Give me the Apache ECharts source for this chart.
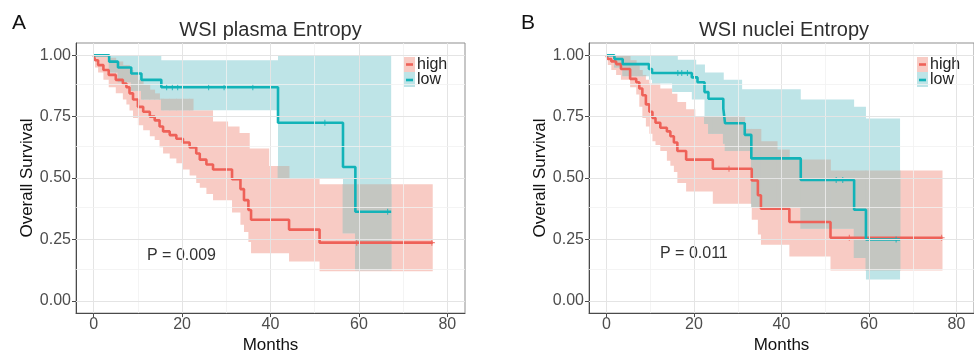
<!DOCTYPE html>
<html>
<head>
<meta charset="utf-8">
<script src="https://cdn.jsdelivr.net/npm/echarts@6/dist/echarts.min.js"></script>
<style>
  html, body { margin: 0; padding: 0; background: #fff; }
  #chart { width: 974px; height: 359px; }
</style>
</head>
<body>
<div id="chart"></div>
<script>
// Kaplan-Meier curves: [month, survival] where survival holds until the next month
const aHighLine = [[0,1],[0.3,0.98],[1.0,0.96],[2.2,0.94],[3.4,0.92],[5.0,0.90],[6.6,0.885],[7.4,0.87],[8.1,0.845],[8.9,0.82],[10.0,0.79],[11.2,0.77],[12.7,0.75],[13.8,0.735],[14.9,0.71],[15.7,0.69],[17.2,0.675],[18.7,0.66],[20.2,0.645],[21.7,0.625],[23.2,0.60],[24.0,0.575],[25.5,0.555],[27.0,0.535],[31.3,0.495],[33.2,0.455],[34.0,0.41],[35.0,0.37],[35.6,0.33],[44.2,0.29],[51.1,0.237],[76.7,0.237]];
const aHighUpper = [[0,1],[3.4,0.99],[5.0,0.975],[6.6,0.96],[8.1,0.94],[8.9,0.92],[10.0,0.90],[11.2,0.88],[12.7,0.86],[13.8,0.845],[14.9,0.823],[22.5,0.776],[27.0,0.73],[30.4,0.71],[33.0,0.683],[35.3,0.62],[39.7,0.549],[44.2,0.50],[51.1,0.475],[76.7,0.475]];
const aHighLower = [[0,1],[0.3,0.95],[1.0,0.93],[2.2,0.90],[3.4,0.87],[5.0,0.845],[6.6,0.82],[7.4,0.80],[8.1,0.775],[8.9,0.745],[10.0,0.715],[11.2,0.695],[12.7,0.67],[13.8,0.655],[14.9,0.625],[15.7,0.60],[17.2,0.58],[18.7,0.56],[20.2,0.535],[21.7,0.51],[23.2,0.48],[24.0,0.46],[25.5,0.435],[27.0,0.41],[31.3,0.36],[33.2,0.31],[34.0,0.28],[35.0,0.24],[35.6,0.194],[44.2,0.16],[51.1,0.12],[76.7,0.12]];
const aHighCensor = [[59.5,0.237],[76.5,0.237]];
const aLowLine = [[0,1],[3.5,0.974],[5.5,0.95],[8.5,0.926],[10.8,0.90],[15.3,0.87],[41.7,0.725],[56.4,0.545],[59.2,0.363],[67.3,0.363]];
const aLowUpper = [[0,1],[15.3,0.98],[41.7,1],[67.3,1]];
const aLowLower = [[0,1],[3.5,0.93],[5.5,0.89],[8.5,0.855],[10.8,0.82],[15.3,0.776],[41.7,0.50],[56.4,0.275],[59.2,0.125],[67.3,0.125]];
const aLowCensor = [[16.5,0.87],[17.8,0.87],[19.0,0.87],[26.0,0.87],[29.5,0.87],[36.0,0.87],[52.3,0.725],[66.5,0.363]];

const bHighLine = [[0,1],[0.3,0.985],[1.1,0.975],[2.2,0.964],[3.3,0.944],[5.4,0.904],[6.8,0.89],[7.5,0.865],[8.2,0.837],[9.0,0.80],[9.8,0.77],[10.5,0.745],[11.2,0.725],[12.3,0.705],[13.8,0.69],[14.6,0.67],[15.4,0.645],[16.2,0.61],[18.2,0.575],[24.3,0.538],[33.2,0.49],[34.6,0.43],[35.3,0.375],[41.8,0.321],[51.2,0.257],[76.8,0.257]];
const bHighUpper = [[0,1],[5.4,0.98],[6.8,0.96],[7.5,0.94],[8.2,0.92],[9.0,0.90],[9.8,0.885],[12.3,0.865],[15.0,0.843],[16.2,0.81],[18.2,0.78],[20.3,0.75],[31.6,0.70],[35.3,0.65],[39.0,0.616],[41.8,0.576],[51.2,0.531],[76.8,0.531]];
const bHighLower = [[0,1],[0.3,0.96],[1.1,0.94],[2.2,0.92],[3.3,0.90],[5.4,0.87],[6.8,0.84],[7.5,0.79],[8.2,0.745],[9.0,0.71],[9.8,0.68],[10.5,0.65],[11.2,0.635],[12.3,0.61],[13.8,0.57],[14.6,0.55],[15.4,0.525],[16.2,0.48],[18.2,0.445],[24.3,0.395],[33.2,0.33],[34.6,0.27],[35.3,0.228],[41.8,0.18],[51.2,0.124],[76.8,0.124]];
const bHighCensor = [[28.0,0.538],[55.5,0.257],[76.6,0.257]];
const bLowLine = [[0,1],[1.8,0.985],[3.7,0.964],[9.7,0.944],[10.4,0.928],[19.5,0.91],[20.8,0.89],[22.4,0.85],[23.3,0.823],[26.7,0.783],[27.1,0.723],[31.6,0.676],[33.1,0.58],[44.4,0.492],[56.6,0.371],[59.3,0.25],[67.1,0.25]];
const bLowUpper = [[0,1],[16.3,0.982],[20.5,0.962],[22.5,0.93],[26.8,0.90],[31.0,0.862],[44.4,0.82],[56.6,0.79],[59.3,0.743],[67.1,0.743]];
const bLowLower = [[0,1],[1.8,0.95],[3.7,0.915],[9.7,0.90],[10.4,0.885],[15.0,0.85],[19.5,0.82],[22.4,0.72],[23.3,0.68],[26.7,0.64],[27.1,0.61],[33.1,0.38],[44.4,0.294],[56.6,0.174],[59.3,0.087],[67.1,0.087]];
const bLowCensor = [[16.3,0.928],[17.2,0.928],[18.5,0.928],[52.5,0.492],[54.0,0.492],[66.2,0.25]];

const xMajor = [0, 20, 40, 60, 80];
const xMinor = [10, 30, 50, 70];
const yMajor = [0, 0.25, 0.5, 0.75, 1];
const yMinor = [0.125, 0.375, 0.625, 0.875];

const panelTitles = ['WSI plasma Entropy', 'WSI nuclei Entropy'];
const panelLetters = ['A', 'B'];
const pValues = ['P = 0.009', 'P = 0.011'];
const groupNames = ['high', 'low'];

const RED = '#EE6158';
const CYAN = '#12B3B8';
const PINK = '#F8CBC4';
const AQUA = '#BEE4E7';
const GREY = '#C4C6C1';
const FONT = '"Liberation Sans", Arial, sans-serif';
const PLUS = 'path://M-0.18,-1H0.18V-0.18H1V0.18H0.18V1H-0.18V0.18H-1V-0.18H-0.18Z';

const chart = echarts.init(document.getElementById('chart'), null, { renderer: 'canvas' });

// step polygon between upper and lower bounds
function bandPoints(api, upper, lower) {
  const pts = [];
  for (let i = 0; i < upper.length - 1; i++) {
    pts.push(api.coord([upper[i][0], upper[i][1]]));
    pts.push(api.coord([upper[i + 1][0], upper[i][1]]));
  }
  for (let i = lower.length - 1; i > 0; i--) {
    pts.push(api.coord([lower[i][0], lower[i - 1][1]]));
    pts.push(api.coord([lower[i - 1][0], lower[i - 1][1]]));
  }
  return pts;
}

function stepAt(arr, t) {
  let v = arr[0][1];
  for (let i = 0; i < arr.length; i++) {
    if (arr[i][0] <= t) v = arr[i][1];
  }
  return v;
}

// where both confidence bands cover the same area: [t0, t1, bottom, top]
function overlapCells(u1, l1, u2, l2) {
  const end = Math.min(u1[u1.length - 1][0], u2[u2.length - 1][0]);
  const times = [...new Set([].concat(u1, l1, u2, l2).map(d => d[0]))]
    .filter(t => t < end).sort((a, b) => a - b);
  times.push(end);
  const cells = [];
  for (let k = 0; k < times.length - 1; k++) {
    const t = times[k];
    const top = Math.min(stepAt(u1, t), stepAt(u2, t));
    const bot = Math.max(stepAt(l1, t), stepAt(l2, t));
    if (top > bot) cells.push([t, times[k + 1], bot, top]);
  }
  return cells;
}

function bandSeries(idx, upper, lower, color) {
  return {
    type: 'custom',
    xAxisIndex: idx,
    yAxisIndex: idx,
    data: [[0, 0]],
    z: 2,
    silent: true,
    renderItem: (params, api) => ({
      type: 'polygon',
      shape: { points: bandPoints(api, upper, lower) },
      style: { fill: color },
    }),
  };
}

function overlapSeries(idx, cells) {
  return {
    type: 'custom',
    xAxisIndex: idx,
    yAxisIndex: idx,
    data: cells,
    z: 2,
    silent: true,
    renderItem: (params, api) => {
      const p0 = api.coord([api.value(0), api.value(3)]);
      const p1 = api.coord([api.value(1), api.value(2)]);
      return {
        type: 'rect',
        shape: { x: p0[0] - 0.4, y: p0[1], width: p1[0] - p0[0] + 0.8, height: p1[1] - p0[1] },
        style: { fill: GREY },
      };
    },
  };
}

function lineSeries(idx, name, data, color) {
  return {
    name: name,
    type: 'line',
    xAxisIndex: idx,
    yAxisIndex: idx,
    step: 'end',
    showSymbol: false,
    data: data,
    z: 3,
    lineStyle: { color: color, width: 2.6 },
    itemStyle: { color: color },
  };
}

function censorSeries(idx, data, color) {
  return {
    type: 'scatter',
    xAxisIndex: idx,
    yAxisIndex: idx,
    data: data,
    z: 4,
    silent: true,
    symbol: PLUS,
    symbolSize: 6,
    itemStyle: { color: color },
  };
}

function gridSeries(idx) {
  const major = { color: '#e4e4e4', width: 1, type: 'solid' };
  const minor = { color: '#f1f1f1', width: 0.8, type: 'solid' };
  const data = []
    .concat(xMajor.map(v => ({ xAxis: v, lineStyle: major })))
    .concat(xMinor.map(v => ({ xAxis: v, lineStyle: minor })))
    .concat(yMajor.map(v => ({ yAxis: v, lineStyle: major })))
    .concat(yMinor.map(v => ({ yAxis: v, lineStyle: minor })));
  return {
    type: 'line',
    xAxisIndex: idx,
    yAxisIndex: idx,
    data: [],
    z: 1,
    markLine: {
      silent: true,
      symbol: ['none', 'none'],
      label: { show: false },
      data: data,
    },
  };
}

const lefts = [76, 589];
const grids = lefts.map(l => ({
  left: l, top: 43, width: l === 76 ? 389 : 390, height: 274,
  show: true, borderColor: '#8f8f8f', borderWidth: 1,
}));

const xAxes = lefts.map((l, i) => ({
  type: 'value', gridIndex: i, min: -4, max: 84,
  splitLine: { show: false },
  axisLine: { onZero: false, lineStyle: { color: '#4a4a4a', width: 1 } },
  axisTick: { customValues: xMajor, length: 4, lineStyle: { color: '#4a4a4a' } },
  axisLabel: { customValues: xMajor, color: '#4d4d4d', fontSize: 16, fontFamily: FONT, margin: 3 },
  name: 'Months', nameLocation: 'middle', nameGap: 17,
  nameTextStyle: { fontSize: 17, color: '#111', fontFamily: FONT },
}));

const yAxes = lefts.map((l, i) => ({
  type: 'value', gridIndex: i, min: -0.05, max: 1.05,
  splitLine: { show: false },
  axisLine: { show: true, onZero: false, lineStyle: { color: '#4a4a4a', width: 1 } },
  axisTick: { show: true, customValues: yMajor, length: 4, lineStyle: { color: '#4a4a4a' } },
  axisLabel: {
    customValues: yMajor, color: '#4d4d4d', fontSize: 16, fontFamily: FONT, margin: 5,
    formatter: v => v.toFixed(2),
  },
  name: 'Overall Survival', nameLocation: 'middle', nameGap: 38,
  nameTextStyle: { fontSize: 17, color: '#111', fontFamily: FONT },
}));

const panels = [
  { high: aHighLine, highUp: aHighUpper, highLo: aHighLower, highCen: aHighCensor,
    low: aLowLine, lowUp: aLowUpper, lowLo: aLowLower, lowCen: aLowCensor },
  { high: bHighLine, highUp: bHighUpper, highLo: bHighLower, highCen: bHighCensor,
    low: bLowLine, lowUp: bLowUpper, lowLo: bLowLower, lowCen: bLowCensor },
];

const series = [];
panels.forEach((p, i) => {
  series.push(gridSeries(i));
  series.push(bandSeries(i, p.highUp, p.highLo, PINK));
  series.push(bandSeries(i, p.lowUp, p.lowLo, AQUA));
  series.push(overlapSeries(i, overlapCells(p.highUp, p.highLo, p.lowUp, p.lowLo)));
  series.push(lineSeries(i, groupNames[0], p.high, RED));
  series.push(lineSeries(i, groupNames[1], p.low, CYAN));
  series.push(censorSeries(i, p.highCen, RED));
  series.push(censorSeries(i, p.lowCen, CYAN));
});

// titles, panel letters, p-values and legends
const graphic = [];
const centers = [270.5, 784];
const letterX = [12, 521];
const pX = [147, 660];
const pY = [256, 254];
const legX = [404, 917];
panels.forEach((p, i) => {
  graphic.push({ type: 'text', x: centers[i], y: 30, style: { text: panelTitles[i], font: '20px ' + FONT, fill: '#2e2e2e', align: 'center', verticalAlign: 'middle' } });
  graphic.push({ type: 'text', x: letterX[i], y: 23, style: { text: panelLetters[i], font: '21px ' + FONT, fill: '#111', align: 'left', verticalAlign: 'middle' } });
  graphic.push({ type: 'text', x: pX[i], y: pY[i], style: { text: pValues[i], font: '16px ' + FONT, fill: '#333', align: 'left', verticalAlign: 'middle' } });
  [[PINK, RED, 57, 64.5], [AQUA, CYAN, 72, 80]].forEach((k, j) => {
    graphic.push({ type: 'rect', shape: { x: legX[i], y: k[2], width: 11, height: 15 }, style: { fill: k[0] } });
    graphic.push({ type: 'line', shape: { x1: legX[i] + 2, y1: k[3], x2: legX[i] + 9, y2: k[3] }, style: { stroke: k[1], lineWidth: 2.6 } });
    graphic.push({ type: 'text', x: legX[i] + 13, y: k[3], style: { text: groupNames[j], font: '16px ' + FONT, fill: '#222', align: 'left', verticalAlign: 'middle' } });
  });
});

chart.setOption({
  animation: false,
  backgroundColor: '#ffffff',
  textStyle: { fontFamily: FONT },
  grid: grids,
  xAxis: xAxes,
  yAxis: yAxes,
  series: series,
  graphic: graphic,
});
</script>
</body>
</html>
